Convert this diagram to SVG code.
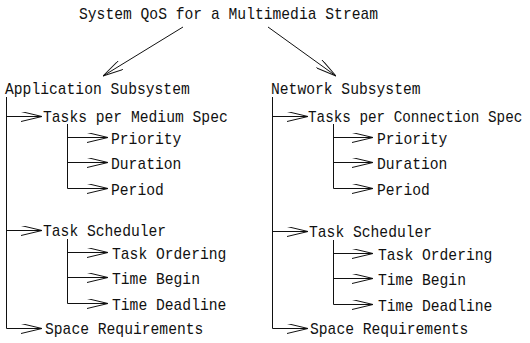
<svg xmlns="http://www.w3.org/2000/svg" width="530" height="343" viewBox="0 0 530 343">
<style>
text{font-family:"Liberation Mono","DejaVu Sans Mono",monospace;font-size:14.67px;fill:#111;}
.c{fill:none;stroke:#111;stroke-width:1;}
</style>
<defs>
<marker id="ah" viewBox="0 0 21 10" refX="21" refY="5" markerWidth="21" markerHeight="10" markerUnits="userSpaceOnUse" orient="auto">
<path d="M0,0 L21,5 L0,10" fill="none" stroke="#111" stroke-width="1"/>
</marker>
</defs>
<rect width="530" height="343" fill="#fff"/>
<g id="connectors" class="c">
<path d="M183,27 L103,76" marker-end="url(#ah)"/>
<path d="M268,27 L336,76" marker-end="url(#ah)"/>
<path d="M6.5,97 L6.5,328.5"/>
<path d="M6.5,116.5 L42,116.5" marker-end="url(#ah)"/>
<path d="M6.5,230.5 L42,230.5" marker-end="url(#ah)"/>
<path d="M6.5,328.5 L42,328.5" marker-end="url(#ah)"/>
<path d="M67.5,124 L67.5,188.5"/>
<path d="M67.5,137.5 L108,137.5" marker-end="url(#ah)"/>
<path d="M67.5,162.5 L108,162.5" marker-end="url(#ah)"/>
<path d="M67.5,188.5 L108,188.5" marker-end="url(#ah)"/>
<path d="M67.5,239 L67.5,303.5"/>
<path d="M67.5,252.5 L108,252.5" marker-end="url(#ah)"/>
<path d="M67.5,277.5 L108,277.5" marker-end="url(#ah)"/>
<path d="M67.5,303.5 L108,303.5" marker-end="url(#ah)"/>
<path d="M272.5,97 L272.5,328.5"/>
<path d="M272.5,116.5 L308,116.5" marker-end="url(#ah)"/>
<path d="M272.5,231.5 L308,231.5" marker-end="url(#ah)"/>
<path d="M272.5,328.5 L308,328.5" marker-end="url(#ah)"/>
<path d="M333.5,124 L333.5,188.5"/>
<path d="M333.5,137.5 L373,137.5" marker-end="url(#ah)"/>
<path d="M333.5,162.5 L373,162.5" marker-end="url(#ah)"/>
<path d="M333.5,188.5 L373,188.5" marker-end="url(#ah)"/>
<path d="M333.5,240 L333.5,304.5"/>
<path d="M333.5,253.5 L373,253.5" marker-end="url(#ah)"/>
<path d="M333.5,278.5 L373,278.5" marker-end="url(#ah)"/>
<path d="M333.5,304.5 L373,304.5" marker-end="url(#ah)"/>
</g>
<g id="root" transform="translate(79,19) scale(1,1.16)"><text>System QoS for a Multimedia Stream</text></g>
<g id="app" transform="translate(5,94) scale(1,1.16)"><text>Application Subsystem</text></g>
<g id="app-tasks" transform="translate(43,122) scale(1,1.16)"><text>Tasks per Medium Spec</text></g>
<g id="app-priority" transform="translate(111,144) scale(1,1.16)"><text>Priority</text></g>
<g id="app-duration" transform="translate(111,169) scale(1,1.16)"><text>Duration</text></g>
<g id="app-period" transform="translate(111,195) scale(1,1.16)"><text>Period</text></g>
<g id="app-sched" transform="translate(43,236) scale(1,1.16)"><text>Task Scheduler</text></g>
<g id="app-order" transform="translate(112,259) scale(1,1.16)"><text>Task Ordering</text></g>
<g id="app-begin" transform="translate(112,284) scale(1,1.16)"><text>Time Begin</text></g>
<g id="app-deadline" transform="translate(112,310) scale(1,1.16)"><text>Time Deadline</text></g>
<g id="app-space" transform="translate(45,334) scale(1,1.16)"><text>Space Requirements</text></g>
<g id="net" transform="translate(271,94) scale(1,1.16)"><text>Network Subsystem</text></g>
<g id="net-tasks" transform="translate(308,122) scale(1,1.16)"><text style="font-size:14.3px">Tasks per Connection Spec</text></g>
<g id="net-priority" transform="translate(377,144) scale(1,1.16)"><text>Priority</text></g>
<g id="net-duration" transform="translate(377,169) scale(1,1.16)"><text>Duration</text></g>
<g id="net-period" transform="translate(377,195) scale(1,1.16)"><text>Period</text></g>
<g id="net-sched" transform="translate(309,237) scale(1,1.16)"><text>Task Scheduler</text></g>
<g id="net-order" transform="translate(378,260) scale(1,1.16)"><text>Task Ordering</text></g>
<g id="net-begin" transform="translate(378,285) scale(1,1.16)"><text>Time Begin</text></g>
<g id="net-deadline" transform="translate(378,311) scale(1,1.16)"><text>Time Deadline</text></g>
<g id="net-space" transform="translate(310,334) scale(1,1.16)"><text>Space Requirements</text></g>
</svg>
